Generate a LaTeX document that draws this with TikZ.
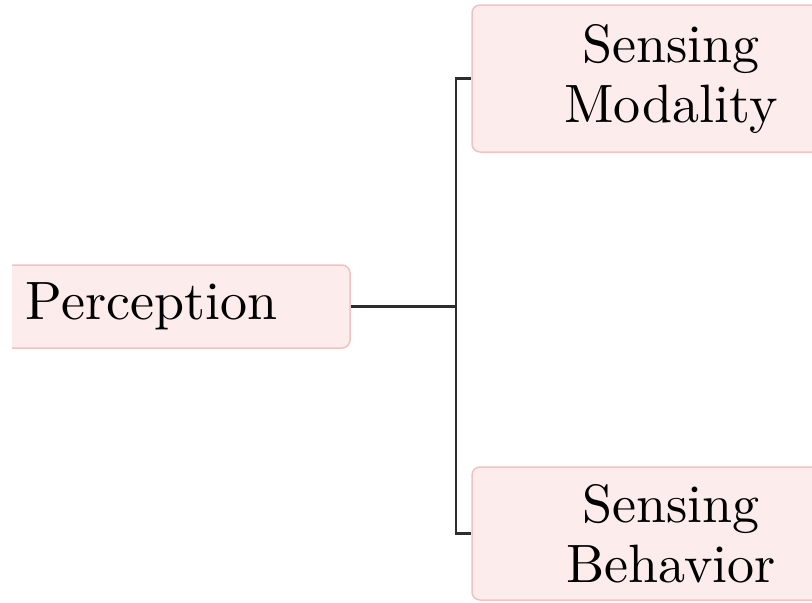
\documentclass[tikz,border=0pt]{standalone}
\usepackage{fontspec}
\setmainfont{lmroman10}[Extension=.otf, UprightFont=*-regular]
\definecolor{boxfill}{RGB}{253,236,236}
\definecolor{boxline}{RGB}{240,194,194}
\definecolor{linkline}{RGB}{45,45,45}
\begin{document}
\begin{tikzpicture}[x=0.5pt,y=-0.5pt,
  topic/.style={draw=boxline, fill=boxfill, line width=0.75pt, rounded corners=4pt,
    inner sep=0pt, align=center, font=\fontsize{27}{30}\selectfont},
  link/.style={draw=linkline, line width=1.4pt}]
\useasboundingbox (0,0) rectangle (812,602);
\begin{scope}
  \clip (12,0) rectangle (812,602);
  \node[topic, minimum width=198.5pt, minimum height=41.5pt] (perc) at (151.5,306.5) {Perception};
  \node[topic, minimum width=199pt, minimum height=73.5pt] (mod) at (671,78.5) {Sensing\\Modality};
  \node[topic, minimum width=199pt, minimum height=66.5pt] (beh) at (671,533.5) {Sensing\\Behavior};
\end{scope}
\coordinate (fork) at (456,306.5);
\draw[link] (perc.east) -- (fork);
\draw[link] (fork) |- (mod.west);
\draw[link] (fork) |- (beh.west);
\end{tikzpicture}
\end{document}
